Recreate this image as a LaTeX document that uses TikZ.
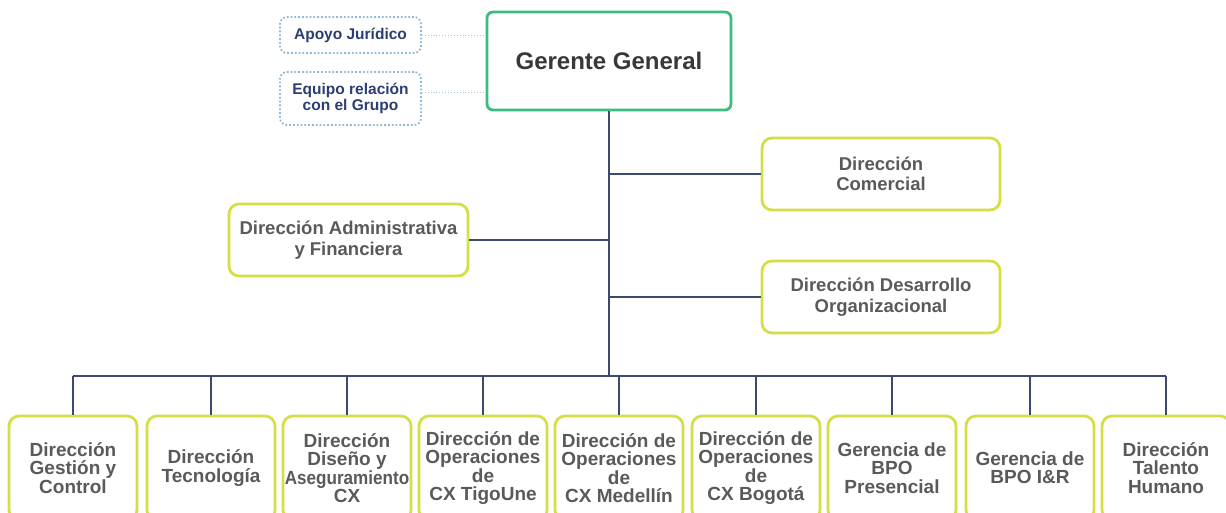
\documentclass[tikz,border=0pt]{standalone}
\usepackage{fontspec}
\setmainfont{Liberation Sans}
\definecolor{txtgray}{HTML}{5A5A5A}
\definecolor{boxyellow}{HTML}{D5DF45}
\definecolor{ggreen}{HTML}{3DBB80}
\definecolor{dotblue}{HTML}{8DBAD6}
\definecolor{navy}{HTML}{2B3D72}
\definecolor{linecol}{HTML}{3D4A6D}
\definecolor{dotline}{HTML}{A6C6CC}
\begin{document}
\begin{tikzpicture}[x=1pt,y=-1pt,
  every node/.style={text=txtgray, align=center, inner sep=0pt},
  ybox/.style={draw=boxyellow, line width=2.8pt, rounded corners=10pt, fill=white},
  bbox/.style={ybox, minimum width=128pt, minimum height=104pt, font=\bfseries\fontsize{19}{18.3}\selectfont},
  mbox/.style={ybox, minimum width=238pt, minimum height=72pt, font=\bfseries\fontsize{18.5}{20.5}\selectfont},
  gbox/.style={draw=ggreen, line width=2.8pt, rounded corners=6pt, fill=white, minimum width=244pt, minimum height=98pt, text=black!78, font=\bfseries\fontsize{24}{28}\selectfont},
  bluebox/.style={draw=dotblue, dotted, line width=1.8pt, rounded corners=7pt, minimum width=141pt, text=navy, font=\bfseries\fontsize{15.5}{15.5}\selectfont},
  link/.style={draw=linecol, line width=1.8pt},
  dotlink/.style={draw=dotline, line width=0.9pt, dotted}]
\useasboundingbox (0,0) rectangle (1226,513);
\clip (0,0) rectangle (1226,513);
\fill[white] (0,0) rectangle (1226,513);

% top
\node[gbox] (gg) at (609,61) {Gerente General};
\node[bluebox, minimum height=36pt] (apoyo) at (350.5,35) {Apoyo Jurídico};
\node[bluebox, minimum height=53pt] (equipo) at (350.5,98.5) {Equipo relación\\con el Grupo};

% middle
\node[mbox] (com) at (881,174) {Dirección\\Comercial};
\node[mbox, minimum width=239pt] (adm) at (348.5,240) {Dirección Administrativa\\y Financiera};
\node[mbox] (des) at (881,297) {Dirección Desarrollo\\Organizacional};

% bottom
\node[bbox] (b1) at (73,468) {Dirección\\Gestión y\\Control};
\node[bbox] (b2) at (211,468) {Dirección\\Tecnología};
\node[bbox] (b3) at (347,468) {Dirección\\Diseño y\\\scalebox{0.9}[1]{Aseguramiento}\\CX};
\node[bbox] (b4) at (483,468) {Dirección de\\Operaciones\\de\\CX TigoUne};
\node[bbox] (b5) at (619,468) {Dirección de\\Operaciones\\de\\CX Medellín};
\node[bbox] (b6) at (756,468) {Dirección de\\Operaciones\\de\\CX Bogotá};
\node[bbox] (b7) at (892,468) {Gerencia de\\BPO\\Presencial};
\node[bbox] (b8) at (1030,468) {Gerencia de\\BPO I\&R};
\node[bbox] (b9) at (1166,468) {Dirección\\Talento\\Humano};

% connectors
\coordinate (bus) at (609,376);
\draw[link] (gg.south) -- (bus);
\draw[link] (b1.north |- bus) -- (b9.north |- bus);
\foreach \b in {b1,b2,b3,b4,b5,b6,b7,b8,b9}{
  \draw[link] (\b.north |- bus) -- (\b.north);
}
\draw[link] (com.west -| gg.south) -- (com.west);
\draw[link] (adm.east -| gg.south) -- (adm.east);
\draw[link] (des.west -| gg.south) -- (des.west);
\draw[dotlink] (apoyo.east) -- (apoyo.east -| gg.west);
\draw[dotlink] ([yshift=6.5pt]equipo.east) -- ([yshift=6.5pt]equipo.east -| gg.west);
\end{tikzpicture}
\end{document}
